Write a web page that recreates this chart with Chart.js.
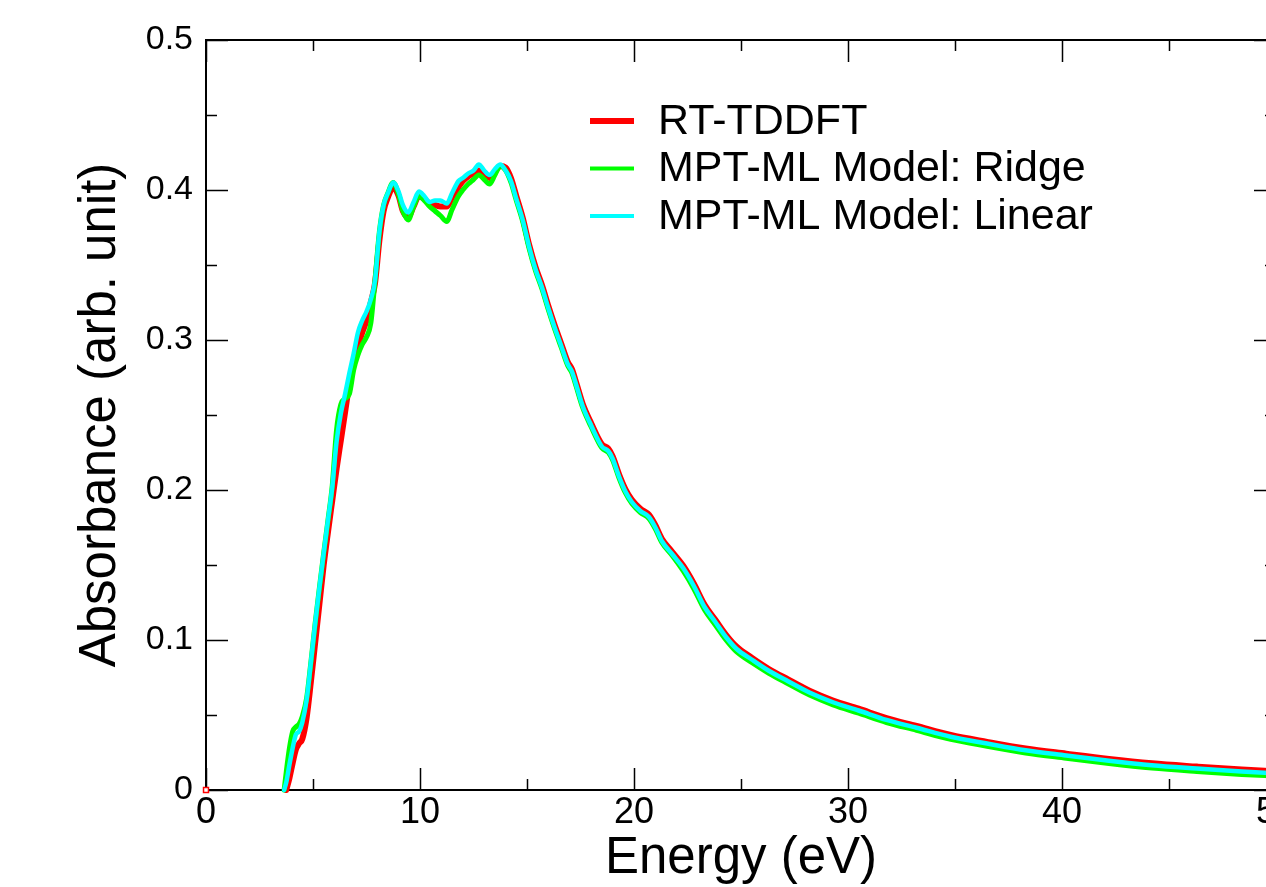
<!DOCTYPE html>
<html>
<head>
<meta charset="utf-8">
<script src="https://cdn.jsdelivr.net/npm/chart.js@4.4.1/dist/chart.umd.min.js"></script>
<style>
  html, body { margin: 0; padding: 0; background: #fff; overflow: hidden; }
  canvas { display: block; }
</style>
</head>
<body>
<canvas id="absChart" width="1300" height="887" style="width:1300px;height:887px"></canvas>
<script>
// Energy grid (eV)
const energy = [
    0, 3.65, 3.75, 3.9, 4.05, 4.2, 4.35, 4.5, 4.7, 4.9,
    5.1, 5.3, 5.5, 5.7, 5.9, 6.1, 6.3, 6.5, 6.7, 6.9,
    7.1, 7.3, 7.5, 7.7, 7.9, 8.1, 8.3, 8.5, 8.75, 9.0,
    9.2, 9.45, 9.7, 9.95, 10.2, 10.45, 10.7, 10.95, 11.25, 11.5,
    11.8, 12.0, 12.25, 12.5, 12.75, 13.0, 13.25, 13.5, 13.75, 14.0,
    14.25, 14.5, 14.8, 15.1, 15.4, 15.7, 16.0, 16.3, 16.6, 16.9,
    17.1, 17.3, 17.6, 18.0, 18.5, 18.8, 19.0, 19.3, 19.6, 19.9,
    20.3, 20.7, 21.0, 21.3, 21.8, 22.3, 22.8, 23.3, 23.8, 24.3,
    24.8, 25.5, 26.3, 27.2, 28.2, 29.3, 30.5, 31.8, 33.2, 34.8,
    36.5, 38.3, 40.2, 42.2, 44.2, 46.3, 48.4, 50
];

// RT-TDDFT
const rtTddft = [
    0, null, 0, 0.008, 0.018, 0.027, 0.031, 0.034, 0.048, 0.072,
    0.098, 0.124, 0.150, 0.172, 0.193, 0.214, 0.233, 0.252, 0.271, 0.286,
    0.296, 0.305, 0.313, 0.325, 0.338, 0.366, 0.386, 0.395, 0.402, 0.396,
    0.386, 0.382, 0.389, 0.396, 0.394, 0.391, 0.390, 0.389, 0.389, 0.395,
    0.402, 0.406, 0.409, 0.411, 0.413, 0.410, 0.408, 0.412, 0.416, 0.415,
    0.408, 0.396, 0.3815, 0.3635, 0.3485, 0.3365, 0.3225, 0.3095, 0.2975, 0.2855,
    0.2805, 0.2715, 0.2575, 0.2445, 0.2305, 0.2275, 0.2225, 0.2105, 0.2005, 0.1935,
    0.1875, 0.1835, 0.1765, 0.1675, 0.1585, 0.1495, 0.1375, 0.1235, 0.1135, 0.1035,
    0.0955, 0.0882, 0.0807, 0.0737, 0.0662, 0.0597, 0.0542, 0.0479, 0.0427, 0.0367,
    0.0321, 0.0277, 0.0242, 0.0207, 0.0178, 0.0156, 0.0136, 0.0124
];

// MPT-ML Ridge
const ridge = [
    null, 0, 0.012, 0.028, 0.039, 0.042, 0.044, 0.049, 0.061, 0.085,
    0.111, 0.135, 0.158, 0.180, 0.203, 0.240, 0.257, 0.261, 0.264, 0.280,
    0.290, 0.297, 0.302, 0.311, 0.340, 0.372, 0.390, 0.398, 0.405, 0.397,
    0.386, 0.380, 0.389, 0.396, 0.393, 0.389, 0.386, 0.383, 0.379, 0.387,
    0.396, 0.400, 0.404, 0.407, 0.410, 0.407, 0.404, 0.410, 0.416, 0.413,
    0.405, 0.393, 0.379, 0.361, 0.346, 0.334, 0.320, 0.307, 0.295, 0.283,
    0.278, 0.269, 0.255, 0.242, 0.228, 0.225, 0.220, 0.208, 0.198, 0.191,
    0.185, 0.181, 0.174, 0.165, 0.156, 0.146, 0.134, 0.120, 0.110, 0.100,
    0.092, 0.085, 0.0778, 0.0708, 0.0633, 0.0568, 0.0512, 0.0450, 0.0398, 0.0338,
    0.0292, 0.0247, 0.0212, 0.0177, 0.0147, 0.0124, 0.0104, 0.0092
];

// MPT-ML Linear
const linear = [
    null, 0, 0.005, 0.017, 0.028, 0.037, 0.039, 0.045, 0.060, 0.085,
    0.111, 0.135, 0.158, 0.180, 0.202, 0.232, 0.251, 0.264, 0.278, 0.291,
    0.305, 0.313, 0.319, 0.327, 0.340, 0.372, 0.390, 0.398, 0.405, 0.399,
    0.390, 0.385, 0.392, 0.399, 0.396, 0.392, 0.393, 0.393, 0.391, 0.398,
    0.406, 0.408, 0.411, 0.413, 0.417, 0.413, 0.410, 0.414, 0.417, 0.413,
    0.406, 0.394, 0.380, 0.362, 0.347, 0.335, 0.321, 0.308, 0.296, 0.284,
    0.279, 0.270, 0.256, 0.243, 0.229, 0.226, 0.221, 0.209, 0.199, 0.192,
    0.186, 0.182, 0.175, 0.166, 0.157, 0.148, 0.136, 0.122, 0.112, 0.102,
    0.094, 0.087, 0.0795, 0.0725, 0.065, 0.0585, 0.053, 0.0467, 0.0415, 0.0355,
    0.031, 0.0265, 0.023, 0.0195, 0.0165, 0.0143, 0.0123, 0.011
];

const seriesLabels = ["RT-TDDFT", "MPT-ML Model: Ridge", "MPT-ML Model: Linear"];

const FONT = "'Liberation Sans', Arial, Helvetica, sans-serif";

function toPoints(values) {
    return energy.map((e, i) => ({ x: e, y: values[i] }));
}

// Рамка и засечки внутрь, как в xmgrace
const framePlugin = {
    id: 'frame',
    beforeDatasetsDraw(chart) {
        const ctx = chart.ctx;
        const a = chart.chartArea;
        const xs = chart.scales.x;
        const ys = chart.scales.y;
        ctx.save();
        ctx.strokeStyle = '#000';
        ctx.lineWidth = 2;
        ctx.strokeRect(a.left, a.top, a.right - a.left, a.bottom - a.top);
        ctx.lineWidth = 1.5;
        ctx.beginPath();
        for (let v = 0; v <= 50; v += 5) {
            const px = Math.round(xs.getPixelForValue(v)) + 0.5;
            const len = v % 10 === 0 ? 22 : 11;
            ctx.moveTo(px, a.bottom); ctx.lineTo(px, a.bottom - len);
            ctx.moveTo(px, a.top); ctx.lineTo(px, a.top + len);
        }
        for (let k = 0; k <= 10; k++) {
            const py = Math.round(ys.getPixelForValue(k * 0.05)) + 0.5;
            const len = k % 2 === 0 ? 22 : 11;
            ctx.moveTo(a.left, py); ctx.lineTo(a.left + len, py);
            ctx.moveTo(a.right, py); ctx.lineTo(a.right - len, py);
        }
        ctx.stroke();
        ctx.restore();
    }
};

// Легенда внутри области графика
const legendPlugin = {
    id: 'innerLegend',
    afterDraw(chart) {
        const ctx = chart.ctx;
        const a = chart.chartArea;
        ctx.save();
        ctx.font = '43px ' + FONT;
        ctx.textBaseline = 'middle';
        ctx.textAlign = 'left';
        chart.data.datasets.forEach((ds, i) => {
            const y = a.top + 81 + i * 47.5;
            ctx.strokeStyle = ds.borderColor;
            ctx.lineWidth = i === 0 ? 6 : 4;
            ctx.beginPath();
            ctx.moveTo(a.left + 384, y);
            ctx.lineTo(a.left + 428, y);
            ctx.stroke();
            ctx.fillStyle = '#000';
            ctx.fillText(ds.label, a.left + 452, y + 1);
        });
        ctx.restore();
    }
};

const ctx = document.getElementById('absChart').getContext('2d');

new Chart(ctx, {
    type: 'line',
    data: {
        datasets: [
            {
                label: seriesLabels[0],
                data: toPoints(rtTddft),
                borderColor: '#ff0000',
                borderWidth: 6,
                pointRadius: c => c.dataIndex === 0 ? 3.5 : 0,
                pointStyle: 'rect',
                pointBorderColor: '#ff0000',
                pointBorderWidth: 1.5,
                pointBackgroundColor: '#ffffff',
                order: 3,
                clip: false
            },
            {
                label: seriesLabels[1],
                data: toPoints(ridge),
                borderColor: '#00ff00',
                borderWidth: 5,
                pointRadius: 0,
                order: 2,
                clip: 6
            },
            {
                label: seriesLabels[2],
                data: toPoints(linear),
                borderColor: '#00ffff',
                borderWidth: 4.5,
                pointRadius: 0,
                order: 1,
                clip: 6
            }
        ]
    },
    options: {
        responsive: false,
        animation: false,
        devicePixelRatio: 1,
        spanGaps: false,
        elements: {
            line: { tension: 0.4, cubicInterpolationMode: 'monotone', borderCapStyle: 'round', borderJoinStyle: 'round' }
        },
        layout: { padding: { top: 40, right: 24, left: 0, bottom: 0 } },
        plugins: {
            legend: { display: false },
            tooltip: { enabled: false }
        },
        scales: {
            x: {
                type: 'linear',
                min: 0,
                max: 50,
                grid: { display: false, drawTicks: false },
                border: { display: false },
                ticks: {
                    stepSize: 10,
                    padding: 1,
                    color: '#000',
                    font: { family: FONT, size: 36 }
                },
                title: {
                    display: true,
                    text: 'Energy (eV)',
                    color: '#000',
                    font: { family: FONT, size: 51, lineHeight: 1.1 },
                    padding: { top: 0, bottom: 0 }
                },
                afterFit(scale) { scale.height = 97; }
            },
            y: {
                type: 'linear',
                min: 0,
                max: 0.5,
                grid: { display: false, drawTicks: false },
                border: { display: false },
                ticks: {
                    stepSize: 0.1,
                    padding: 13,
                    color: '#000',
                    font: { family: FONT, size: 34 }
                },
                title: {
                    display: true,
                    text: 'Absorbance (arb. unit)',
                    color: '#000',
                    font: { family: FONT, size: 51, lineHeight: 1.1 },
                    padding: { top: 73, bottom: 0 }
                },
                afterFit(scale) { scale.width = 206; }
            }
        }
    },
    plugins: [framePlugin, legendPlugin]
});
</script>
</body>
</html>
